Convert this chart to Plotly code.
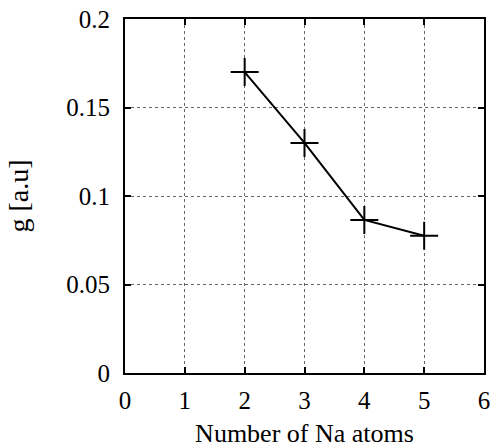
import plotly.graph_objects as go

n_atoms = [2, 3, 4, 5]
g_values = [0.170, 0.130, 0.0865, 0.0775]
x_ticks = [0, 1, 2, 3, 4, 5, 6]
y_ticks = [0, 0.05, 0.1, 0.15, 0.2]
y_tick_labels = ["0", "0.05", "0.1", "0.15", "0.2"]

fig = go.Figure()
fig.add_trace(go.Scatter(
    x=n_atoms, y=g_values, mode="lines+markers",
    line=dict(color="black", width=2),
    marker=dict(symbol="cross-thin", size=20, line=dict(color="black", width=2)),
    showlegend=False,
))

axis_common = dict(
    showline=True, linecolor="black", linewidth=2, mirror="ticks",
    ticks="inside", ticklen=6, tickcolor="black", tickwidth=1.5,
    showgrid=True, gridcolor="#666", griddash="dot", gridwidth=1,
    zeroline=False, automargin=False,
    tickfont=dict(family="Liberation Serif", size=25, color="black"),
)
fig.update_xaxes(range=[0, 6], tickvals=x_ticks, ticklabelstandoff=4, **axis_common,
                 title=dict(text="Number of Na atoms", standoff=16,
                            font=dict(family="Liberation Serif", size=26, color="black")))
fig.update_yaxes(range=[0, 0.2], tickvals=y_ticks, ticktext=y_tick_labels,
                 ticklabelstandoff=8, **axis_common,
                 title=dict(text="g [a.u]", standoff=29,
                            font=dict(family="Liberation Serif", size=28, color="black")))
fig.update_layout(
    width=494, height=448,
    margin=dict(l=125, r=10, t=19, b=75),
    plot_bgcolor="white", paper_bgcolor="white",
)
fig.write_html("out.html")
